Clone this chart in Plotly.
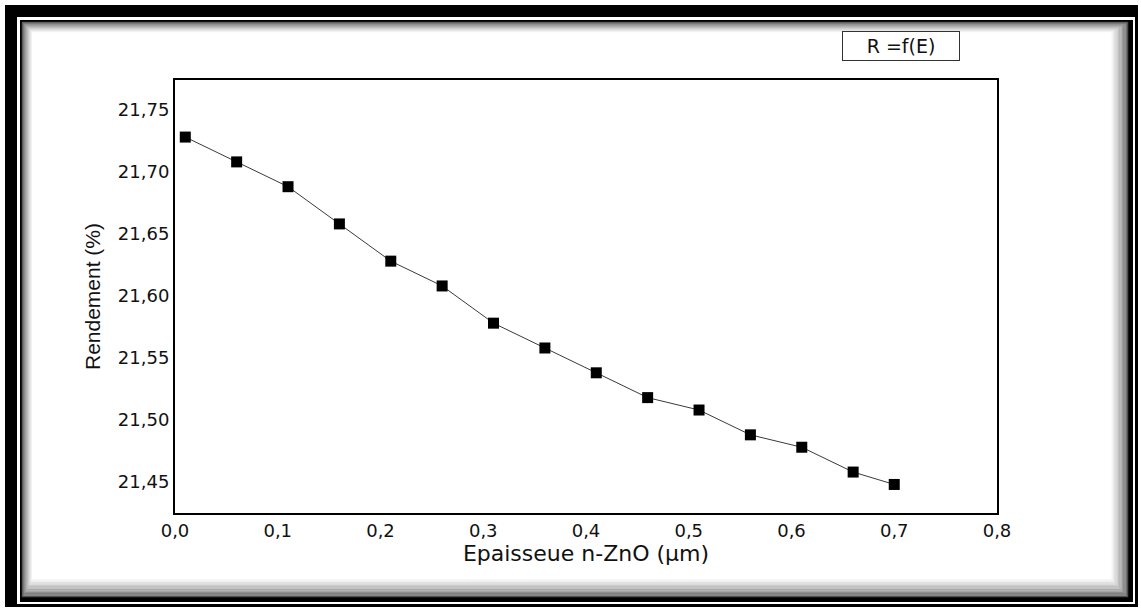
import plotly.graph_objects as go

# ---- data ----
epaisseur = [0.01, 0.06, 0.11, 0.16, 0.21, 0.26, 0.31, 0.36, 0.41, 0.46, 0.51, 0.56, 0.61, 0.66, 0.70]
rendement = [21.728, 21.708, 21.688, 21.658, 21.628, 21.608, 21.578, 21.558, 21.538, 21.518,
             21.508, 21.488, 21.478, 21.458, 21.448]
series_name = "R =f(E)"
x_title = "Epaisseue n-ZnO (µm)"
y_title = "Rendement (%)"

W, H = 1141, 610
L, R, T, B = 175, 144, 80, 97
PW, PH = W - L - R, H - T - B


def px(x):
    return (x - L) / PW


def py(y):
    return (H - B - y) / PH


fig = go.Figure()
fig.add_trace(go.Scatter(
    x=epaisseur, y=rendement, name=series_name, mode="lines+markers",
    line=dict(color="#3a3a3a", width=1),
    marker=dict(symbol="square", size=11, color="black"),
    showlegend=False,
))

shapes = []


def band(x0, y0, x1, y1, color="black"):
    shapes.append(dict(type="rect", xref="paper", yref="paper",
                       x0=px(x0), x1=px(x1), y0=py(y1), y1=py(y0),
                       fillcolor=color, line=dict(width=0), layer="below"))


# outer frame
band(5, 5, 1138, 17)
band(5, 5, 17, 607)
band(1135, 5, 1138, 607)
band(5, 604, 1138, 607)
# inner frame
band(20, 20, 1133, 22)
band(20, 20, 22, 602)
band(1128, 20, 1133, 602)
band(20, 597, 1133, 602)
# inner shadow gradient
n = 14
for i in range(n):
    g = int(80 + (255 - 80) * (i / (n - 1)) ** 0.7)
    c = f"rgb({g},{g},{g})"
    x0, y0 = 22.5 + i * 0.8, 22.5 + i * 0.8
    x1, y1 = 1127.5 - i * 1.3, 596.5 - i * 1.4
    shapes.append(dict(type="rect", xref="paper", yref="paper",
                       x0=px(x0), x1=px(x1), y0=py(y1), y1=py(y0),
                       line=dict(color=c, width=1.5), layer="below"))

fig.update_layout(
    width=W, height=H,
    margin=dict(l=L, r=R, t=T, b=B),
    paper_bgcolor="white", plot_bgcolor="white",
    separators=",.",
    shapes=shapes,
    font=dict(family="DejaVu Sans", color="#111111"),
    xaxis=dict(
        range=[0, 0.8], tick0=0, dtick=0.1, tickformat=".1f",
        showgrid=False, zeroline=False, ticks="",
        showline=True, linecolor="black", linewidth=2, mirror=True,
        tickfont=dict(family="DejaVu Sans", size=18, color="#111111"),
        title=dict(text=x_title, standoff=6,
                   font=dict(family="DejaVu Sans", size=22, color="#111111")),
    ),
    yaxis=dict(
        range=[21.425, 21.774], tick0=21.45, dtick=0.05, tickformat=".2f",
        showgrid=False, zeroline=False, ticks="",
        showline=True, linecolor="black", linewidth=2, mirror=True,
        tickfont=dict(family="DejaVu Sans", size=18, color="#111111"),
        title=dict(text=y_title, standoff=12,
                   font=dict(family="Liberation Sans", size=21, color="#111111")),
    ),
    annotations=[dict(
        text=series_name, xref="paper", yref="paper",
        x=px(901), y=py(46), xanchor="center", yanchor="middle",
        showarrow=False, width=112, height=24, borderpad=2,
        bordercolor="#333333", borderwidth=1, bgcolor="white",
        font=dict(family="DejaVu Sans", size=19, color="#111111"),
    )],
)

fig.write_html(
    "out.html",
    config={"displayModeBar": False},
    post_script="document.body.style.margin='0';document.body.style.overflow='hidden';",
)
